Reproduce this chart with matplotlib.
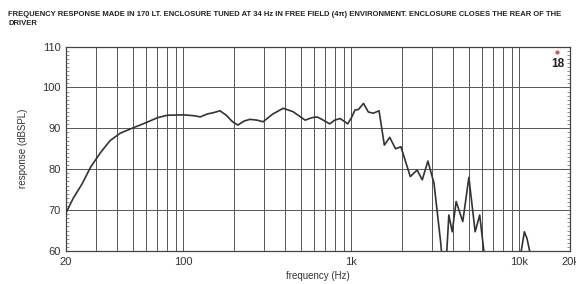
import matplotlib.pyplot as plt
from matplotlib.ticker import FixedLocator, NullFormatter, MultipleLocator

plt.rcParams['font.family'] = ['Liberation Sans', 'DejaVu Sans']

# frequency response (Hz, dBSPL)
freq = [20, 22, 25, 28, 32, 36.6, 42, 50, 60, 70, 80, 100, 115, 126, 138, 150,
        165, 180, 196, 211, 230, 249, 275, 298, 340, 392, 448, 490, 530, 580,
        625, 680, 742, 794, 857, 950, 1000, 1050, 1100, 1180, 1260, 1350, 1460,
        1570, 1690, 1830, 1970, 2240, 2460, 2640, 2850, 3100, 3400, 3500, 3650,
        3800, 3980, 4200, 4600, 5000, 5450, 5800, 6300, 10100, 10250, 10700,
        11100, 11500, 11700]
spl = [69.3, 72.8, 76.5, 80.5, 84.0, 87.0, 88.8, 90.1, 91.4, 92.6, 93.2, 93.3,
       93.1, 92.8, 93.5, 93.8, 94.3, 93.2, 91.6, 90.8, 91.8, 92.2, 92.0, 91.6,
       93.5, 94.9, 94.1, 93.0, 92.0, 92.6, 92.8, 92.0, 91.1, 92.0, 92.4, 91.1,
       92.6, 94.5, 94.6, 96.1, 94.0, 93.7, 94.3, 85.9, 87.8, 85.0, 85.5, 78.2,
       79.8, 77.4, 82.0, 76.6, 62.0, 56.0, 56.0, 68.8, 64.7, 72.1, 67.2, 78.0,
       64.7, 68.8, 56.0, 56.0, 60.0, 64.7, 63.0, 60.0, 57.0]

xticks = [20, 100, 1000, 10000, 20000]
xtick_labels = ['20', '100', '1k', '10k', '20k']
yticks = [60, 70, 80, 90, 100, 110]

title = ("FREQUENCY RESPONSE MADE IN 170 LT. ENCLOSURE TUNED AT 34 Hz IN FREE FIELD (4\u03c0) "
         "ENVIRONMENT. ENCLOSURE CLOSES THE REAR OF THE\nDRIVER")

fig = plt.figure(figsize=(5.76, 2.84), dpi=100)
ax = fig.add_axes([0.1146, 0.1162, 0.8750, 0.7198])

# vertical grid: every 1-2-3...9 per decade
vgrid = []
for dec in [10, 100, 1000, 10000]:
    for m in range(1, 10):
        f = m * dec
        if 20 < f < 20000:
            vgrid.append(f)
for f in vgrid:
    ax.axvline(f, color='#555555', lw=0.7, zorder=1)
for y in yticks[1:-1]:
    ax.axhline(y, color='#555555', lw=0.7, zorder=1)

ax.plot(freq, spl, color='#333333', lw=1.2, zorder=3)

ax.set_xscale('log')
ax.set_xlim(20, 20000)
ax.set_ylim(60, 110)
ax.xaxis.set_major_locator(FixedLocator(xticks))
ax.set_xticklabels(xtick_labels)
ax.xaxis.set_minor_formatter(NullFormatter())
ax.set_yticks(yticks)
ax.yaxis.set_minor_locator(MultipleLocator(1))
ax.tick_params(axis='both', which='major', labelsize=8, length=0, pad=4, colors='#333333')
ax.tick_params(axis='y', which='minor', left=True, right=True, direction='in', length=2,
               width=0.5, color='#666666')
ax.tick_params(axis='x', which='minor', direction='in', length=2, width=0.5, color='#666666')

for s in ax.spines.values():
    s.set_color('#444444')
    s.set_linewidth(0.9)

ax.set_xlabel('frequency (Hz)', fontsize=7, color='#333333', labelpad=3)
ax.set_ylabel('response (dBSPL)', fontsize=7, color='#333333', labelpad=10)

fig.text(0.014, 0.96, title, fontsize=5.5, fontweight='bold', va='top', ha='left',
         color='#222222', linespacing=1.25)

# small brand mark in the top right corner
ax.text(0.975, 0.915, '18', transform=ax.transAxes, fontsize=8.5, fontweight='bold',
        ha='center', va='center', color='#222222', zorder=4)
ax.plot([0.975], [0.975], marker='o', ms=2, color='#e05050', transform=ax.transAxes,
        clip_on=False, zorder=4)

fig.savefig('out.png', dpi=100)
